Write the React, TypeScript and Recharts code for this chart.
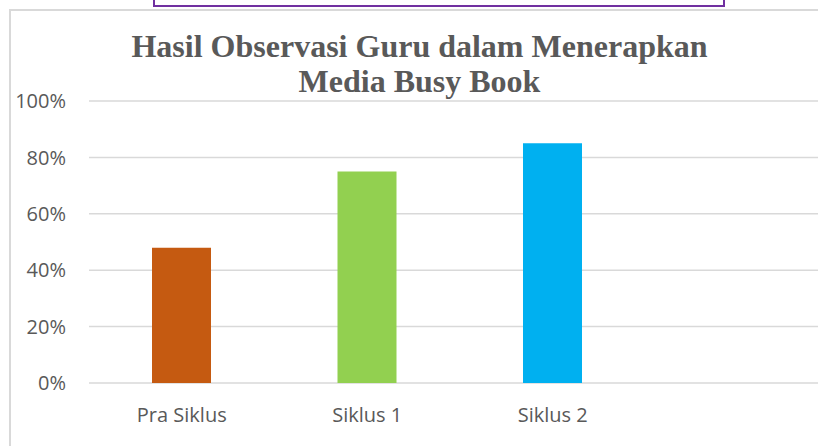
import { BarChart, Bar, XAxis, YAxis, CartesianGrid, Cell } from 'recharts';

const categories = ['Pra Siklus', 'Siklus 1', 'Siklus 2'];
const values = [0.48, 0.75, 0.85];
const barColors = ['#C55A11', '#92D050', '#00B0F0'];
const yTicks = [0, 0.2, 0.4, 0.6, 0.8, 1];

const data = categories.map((name, i) => ({ name, value: values[i] }));

const tickStyle = { fill: '#595959', fontSize: 20, fontFamily: '"Open Sans", sans-serif' };

export default function App() {
  return (
    <div style={{ position: 'fixed', left: 0, top: 0, width: 818, height: 446, overflow: 'hidden', background: '#fff' }}>
      {/* chart frame */}
      <div style={{ position: 'absolute', left: 9, top: 9, width: 900, height: 500, border: '2px solid #d9d9d9', boxSizing: 'border-box' }} />
      {/* bottom of the text box above */}
      <div style={{ position: 'absolute', left: 153, top: -20, width: 572, height: 27, border: '2.5px solid #7030A0', boxSizing: 'border-box' }} />
      <div style={{ position: 'absolute', left: 0, top: 0 }}>
        <BarChart width={831} height={446} data={data} margin={{ top: 101, right: 0, bottom: 0, left: 0 }}>
          <CartesianGrid horizontal vertical={false} stroke="#d9d9d9" strokeWidth={1.5} />
          <XAxis
            dataKey="name"
            axisLine={false}
            tickLine={false}
            tickSize={0}
            tickMargin={25}
            height={63}
            padding={{ left: 0, right: 185.5 }}
            tick={tickStyle}
          />
          <YAxis
            domain={[0, 1]}
            ticks={yTicks}
            tickFormatter={(v: number) => `${Math.round(v * 100)}%`}
            axisLine={false}
            tickLine={false}
            tickSize={0}
            tickMargin={23}
            width={89}
            tick={tickStyle}
          />
          <Bar dataKey="value" barSize={59} isAnimationActive={false}>
            {data.map((d, i) => (
              <Cell key={d.name} fill={barColors[i]} />
            ))}
          </Bar>
        </BarChart>
      </div>
      <div
        style={{
          position: 'absolute',
          left: 119.5,
          top: 29,
          width: 600,
          textAlign: 'center',
          fontFamily: '"Liberation Serif", "Times New Roman", serif',
          fontWeight: 'bold',
          fontSize: 32,
          lineHeight: '35px',
          color: '#595959',
        }}
      >
        Hasil Observasi Guru dalam Menerapkan
        <br />
        Media Busy Book
      </div>
    </div>
  );
}
